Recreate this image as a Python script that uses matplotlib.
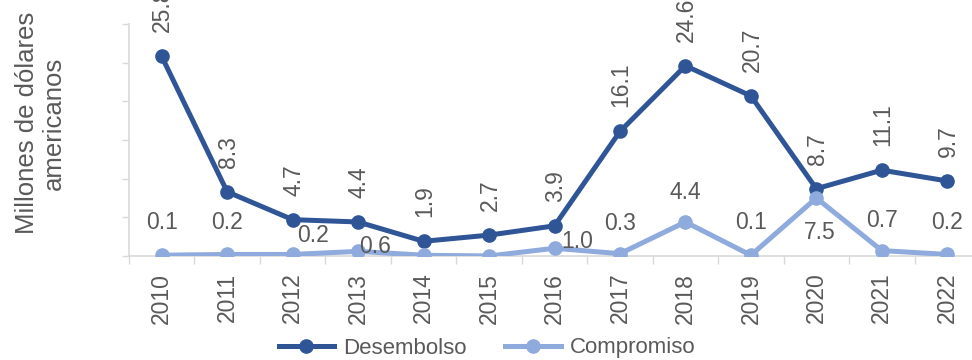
import matplotlib
matplotlib.use("Agg")
import matplotlib.pyplot as plt
from matplotlib.lines import Line2D

plt.rcParams['font.family'] = ['Liberation Sans', 'DejaVu Sans']

years = ["2010", "2011", "2012", "2013", "2014", "2015", "2016",
         "2017", "2018", "2019", "2020", "2021", "2022"]
desembolso = [25.8, 8.3, 4.7, 4.4, 1.9, 2.7, 3.9, 16.1, 24.6, 20.7, 8.7, 11.1, 9.7]
compromiso = [0.1, 0.2, 0.2, 0.6, 0.1, 0.0, 1.0, 0.3, 4.4, 0.1, 7.5, 0.7, 0.2]
compromiso_labels = ["0.1", "0.2", "0.2", "0.6", None, None, "1.0",
                     "0.3", "4.4", "0.1", "7.5", "0.7", "0.2"]

# label offsets (pixels) for Compromiso labels: (dx, dy of baseline)
comp_offsets = [(0, 26), (0, 25), (20, 12), (17, -2), (0, 0), (0, 0), (23, 0),
                (0, 24), (0, 23), (0, 26), (3, -41), (0, 24), (0, 25)]

DARK = "#2F5597"
LIGHT = "#8FAADC"
TXT = "#595959"
GRID = "#D9D9D9"
FS = 16.5

fig = plt.figure(figsize=(9.72, 3.6), dpi=100)
ax = fig.add_axes([129 / 972, 1 - 256 / 360, (980 - 129) / 972, (256 - 24) / 360])

x = list(range(len(years)))
ax.plot(x, desembolso, color=DARK, lw=3.6, marker='o', ms=9.5, zorder=3)
ax.plot(x, compromiso, color=LIGHT, lw=3.6, marker='o', ms=9.5, zorder=4)

for xi, v in zip(x, desembolso):
    ax.annotate(f"{v:.1f}", (xi, v), xytext=(1, 24), textcoords='offset pixels',
                rotation=90, ha='center', va='bottom', fontsize=FS, color=TXT,
                annotation_clip=False, zorder=5)

for xi, v, lab, (dx, dy) in zip(x, compromiso, compromiso_labels, comp_offsets):
    if lab is None:
        continue
    ax.annotate(lab, (xi, v), xytext=(dx, dy), textcoords='offset pixels',
                ha='center', va='baseline', fontsize=FS, color=TXT,
                annotation_clip=False, zorder=5)

ax.set_xlim(-0.5, len(years) - 0.5)
ax.set_ylim(0, 30)
ax.set_yticks([0, 5, 10, 15, 20, 25, 30])
ax.set_yticklabels([])
ax.tick_params(axis='y', length=5, width=1, color=GRID, direction='out')
ax.set_xticks(x)
ax.set_xticklabels(years, rotation=90, fontsize=FS, color=TXT)
ax.tick_params(axis='x', which='major', length=0, pad=12)
ax.set_xticks([i + 0.5 for i in range(-1, len(years))], minor=True)
ax.tick_params(axis='x', which='minor', length=6, width=1, color=GRID, direction='out')

for s in ['top', 'right']:
    ax.spines[s].set_visible(False)
for s in ['left', 'bottom']:
    ax.spines[s].set_color(GRID)
    ax.spines[s].set_linewidth(1.2)

fig.text(40 / 972, 1 - 123 / 360, "Millones de dólares\namericanos", rotation=90,
         ha='center', va='center', multialignment='center', fontsize=18.5,
         color=TXT, linespacing=1.15)

handles = [Line2D([], [], color=DARK, lw=3.6, marker='o', ms=9.5),
           Line2D([], [], color=LIGHT, lw=3.6, marker='o', ms=9.5)]
fig.legend(handles, ["Desembolso", "Compromiso"], loc='center',
           bbox_to_anchor=(487 / 972, 1 - 348 / 360), ncol=2, frameon=False,
           fontsize=16, labelcolor=TXT, handlelength=2.5, handletextpad=0.4,
           columnspacing=1.75, numpoints=1, borderpad=0)

fig.savefig("out.png", dpi=100)
